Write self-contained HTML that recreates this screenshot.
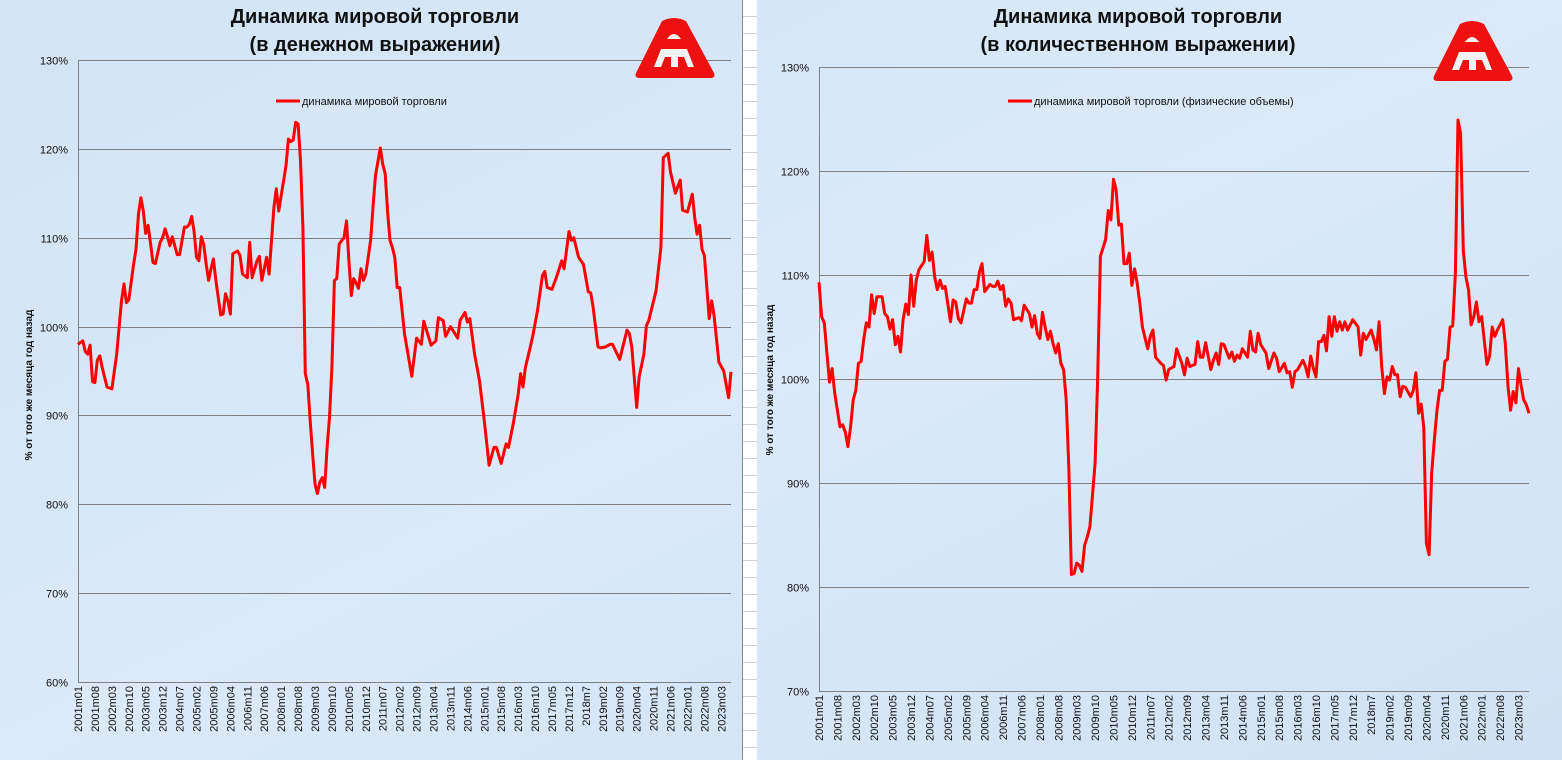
<!DOCTYPE html>
<html><head><meta charset="utf-8">
<style>
html,body{margin:0;padding:0;width:1562px;height:760px;overflow:hidden;background:#d8e7f7;}
svg{position:absolute;left:0;top:0;}
text{font-family:"Liberation Sans","DejaVu Sans",sans-serif;}
</style></head>
<body>
<svg id="chart" width="1562" height="760" viewBox="0 0 1562 760">
<defs>
<linearGradient id="bg" x1="0" y1="0" x2="1" y2="1">
<stop offset="0" stop-color="#d3e4f6"/><stop offset="0.5" stop-color="#dbe9f8"/><stop offset="1" stop-color="#d0e2f5"/>
</linearGradient>
</defs>
<rect x="0" y="0" width="1562" height="760" fill="url(#bg)"/>
<g id="strip"></g>
<g id="left"></g>
<g id="right"></g>
</svg>
<script>
// ---- shared category labels ----
const tickLabels = ["2001m01","2001m08","2002m03","2002m10","2003m05","2003m12","2004m07","2005m02","2005m09","2006m04","2006m11","2007m06","2008m01","2008m08","2009m03","2009m10","2010m05","2010m12","2011m07","2012m02","2012m09","2013m04","2013m11","2014m06","2015m01","2015m08","2016m03","2016m10","2017m05","2017m12","2018m7","2019m02","2019m09","2020m04","2020m11","2021m06","2022m01","2022m08","2023m03"];
const tickMonths = [0,7,14,21,28,35,42,49,56,63,70,77,84,91,98,105,112,119,126,133,140,147,154,161,168,175,182,189,196,203,210,217,224,231,238,245,252,259,266];
const totalMonths = 270;

// ---- left chart (value) ----
const valueMonths = [0,2,3,4,5,6,7,8,9,10,12,14,16,18,19,20,21,23,24,25,26,27,28,29,30,31,32,34,35,36,37,38,39,41,42,44,45,46,47,48,49,50,51,52,53,54,55,56,57,59,60,61,62,63,64,66,67,68,70,71,72,74,75,76,78,79,81,82,83,85,86,87,88,89,90,91,92,93,94,95,96,97,98,99,100,101,102,103,104,105,106,107,108,110,111,112,113,114,115,116,117,118,119,121,122,123,125,126,127,128,129,130,131,132,133,135,138,140,142,143,146,148,149,151,152,154,157,158,160,161,162,164,166,168,170,172,173,175,177,178,180,182,183,184,185,187,188,190,192,193,194,196,198,200,201,203,204,205,207,209,211,212,213,215,216,218,220,221,224,227,228,229,231,232,234,235,236,239,241,242,244,245,247,249,250,252,254,255,256,257,258,259,261,262,263,265,267,269,270];
const valueSeries = [98.0,98.4,97.2,96.9,97.9,93.8,93.7,96.2,96.7,95.4,93.2,93.0,96.9,102.9,104.8,102.7,103.0,107.0,108.7,112.7,114.5,113.0,110.5,111.4,109.3,107.2,107.1,109.5,110.0,111.0,110.1,109.1,110.1,108.1,108.1,111.2,111.2,111.5,112.4,110.7,107.8,107.4,110.1,109.2,107.0,105.2,106.5,107.6,105.2,101.3,101.4,103.7,102.9,101.4,108.2,108.5,108.0,105.9,105.5,109.5,105.5,107.4,107.9,105.2,107.8,105.9,113.4,115.5,113.0,116.4,118.1,121.1,120.8,121.0,123.0,122.8,118.7,111.2,94.7,93.5,89.4,85.7,82.3,81.2,82.5,83.0,81.9,86.4,89.8,95.4,105.2,105.4,109.3,110.0,111.9,107.4,103.5,105.4,104.9,104.3,106.5,105.2,105.9,109.7,113.6,117.0,120.1,118.3,117.2,112.9,109.7,108.9,107.8,104.4,104.4,99.2,94.4,98.7,98.0,100.6,97.9,98.4,101.0,100.7,98.9,100.0,98.7,100.7,101.6,100.5,100.9,96.9,93.9,89.4,84.4,86.4,86.4,84.6,86.8,86.4,89.1,92.4,94.7,93.2,95.4,97.7,98.9,101.8,105.7,106.2,104.4,104.2,105.7,107.4,106.5,110.7,109.7,110.0,107.8,107.0,103.9,103.8,102.2,97.7,97.6,97.7,98.0,98.0,96.3,99.6,99.2,97.7,90.9,94.3,96.9,100.1,100.7,104.0,108.9,119.0,119.5,117.4,115.0,116.5,113.1,112.9,114.9,112.3,110.4,111.4,108.7,108.0,100.9,102.9,101.2,96.0,95.0,92.0,94.9];
const valueTicks = [60,70,80,90,100,110,120,130];

// ---- right chart (volume) ----
const volumeMonths = [0,1,2,3,4,5,6,7,8,9,10,11,12,13,14,15,16,17,18,19,20,21,22,24,25,26,27,28,29,30,31,32,33,34,35,36,37,38,40,41,42,43,44,45,46,47,48,50,51,52,53,54,56,57,58,59,60,61,62,63,65,66,67,68,69,70,71,72,73,74,75,76,77,78,80,81,82,83,84,85,86,87,88,89,90,91,92,93,94,95,96,97,98,99,100,101,102,103,105,106,107,109,110,111,112,113,114,115,116,117,118,119,120,121,122,123,125,126,127,128,130,131,132,133,135,136,138,139,140,141,143,144,145,146,147,149,150,151,152,153,154,156,157,158,159,160,161,163,164,165,166,167,168,170,171,173,174,175,177,178,179,180,181,182,184,185,186,187,188,189,190,191,192,193,194,195,196,197,198,199,200,201,203,205,206,207,208,210,211,212,213,214,215,216,217,218,219,220,221,222,223,225,226,227,228,229,230,231,232,233,234,235,236,237,238,239,240,241,242,243,244,245,246,247,248,249,250,251,252,254,255,256,257,258,260,261,262,263,264,265,266,267,268,269,270];
const volumeSeries = [109.3,106.0,105.4,102.5,99.7,101.0,98.6,97.0,95.4,95.6,94.9,93.5,95.4,98.0,98.9,101.5,101.7,103.8,105.4,105.0,108.1,106.3,107.9,107.9,106.3,106.0,104.8,105.7,103.3,104.1,102.6,105.7,107.2,106.2,110.0,107.0,109.5,110.5,111.3,113.8,111.4,112.2,109.8,108.6,109.5,108.7,108.9,105.5,107.6,107.4,105.8,105.4,107.7,107.3,107.3,108.6,108.6,110.3,111.1,108.4,109.1,108.9,108.9,109.4,108.6,109.0,107.0,107.7,107.3,105.7,105.8,105.9,105.6,107.1,106.3,105.0,106.1,104.4,103.9,106.4,105.0,103.8,104.6,103.4,102.5,103.4,101.5,100.9,98.0,91.6,81.2,81.3,82.3,82.1,81.5,84.0,84.8,85.8,91.9,100.2,111.8,113.4,116.2,115.3,119.2,118.2,114.8,114.9,111.1,111.1,112.1,109.0,110.6,109.2,107.3,105.0,102.9,104.1,104.7,102.1,101.5,101.3,99.9,100.9,101.2,102.9,101.5,100.4,102.0,101.2,101.4,103.6,102.1,102.1,103.5,100.9,101.8,102.5,101.4,103.4,103.3,102.0,102.6,101.7,102.3,102.0,102.9,102.1,104.6,102.8,102.6,104.4,103.3,102.5,101.0,102.5,102.0,100.7,101.5,100.6,100.7,99.2,100.7,100.9,101.8,101.2,100.2,102.2,101.0,100.2,103.6,103.6,104.2,102.7,106.0,104.1,106.0,104.6,105.5,104.7,105.5,104.7,105.7,105.0,102.3,104.4,103.8,104.7,103.8,102.8,105.5,101.2,98.6,100.2,99.9,101.2,100.4,100.4,98.3,99.3,99.2,98.3,98.9,100.6,96.7,97.6,95.3,84.2,83.1,91.0,94.1,97.0,98.9,98.9,101.7,101.9,105.0,105.1,110.2,124.9,123.6,112.4,109.8,108.6,105.2,106.0,107.4,105.5,106.0,101.4,102.2,105.0,104.1,104.7,105.7,103.4,99.3,97.0,98.8,97.7,101.0,99.4,98.0,97.5,96.7];
const volumeTicks = [70,80,90,100,110,120,130];

const NS = "http://www.w3.org/2000/svg";
function mk(parent, tag, attrs, txt){
  const e = document.createElementNS(NS, tag);
  for (const k in attrs) e.setAttribute(k, attrs[k]);
  if (txt !== undefined) e.textContent = txt;
  parent.appendChild(e);
  return e;
}

// spreadsheet strip between charts
(function(){
  const g = document.getElementById('strip');
  const r = mk(g,'rect',{x:742,y:0,width:15,height:760,fill:'#ffffff'});
  
  
  mk(g,'line',{x1:742.5,y1:0,x2:742.5,y2:760,stroke:'#8a8a8a','stroke-width':1});
  for (let y=16; y<760; y+=17) mk(g,'line',{x1:743,y1:y+0.5,x2:757,y2:y+0.5,stroke:'#d0d0d0','stroke-width':1});
})();

function drawChart(g, cfg){
  const x = m => cfg.x0 + (cfg.x1 - cfg.x0) * m / totalMonths;
  const y = v => cfg.yTop + (cfg.maxV - v) * (cfg.yBot - cfg.yTop) / (cfg.maxV - cfg.minV);

  // title
  const t1 = mk(g,'text',{x:cfg.titleX,y:23,'text-anchor':'middle','font-size':20,'font-weight':'bold',fill:'#111'},cfg.title1);
  
  
  const t2 = mk(g,'text',{x:cfg.titleX,y:51,'text-anchor':'middle','font-size':20,'font-weight':'bold',fill:'#111'},cfg.title2);
  
  

  // gridlines and y ticks
  cfg.ticks.forEach(v=>{
    const yy = Math.round(y(v))+0.5;
    const gl = mk(g,'line',{x1:cfg.x0,y1:yy,x2:cfg.x1,y2:yy,stroke:'#808080','stroke-width':1});
    
    
    const tl = mk(g,'text',{x:cfg.x0-10,y:yy+4,'text-anchor':'end','font-size':11,fill:'#111'},v+'%');
    
    
  });
  const ax = mk(g,'line',{x1:cfg.x0+0.5,y1:y(cfg.maxV),x2:cfg.x0+0.5,y2:y(cfg.minV),stroke:'#808080','stroke-width':1});
  
  

  // y axis title
  const yt = mk(g,'text',{x:0,y:0,'text-anchor':'middle','font-size':10,'font-weight':'bold',fill:'#111',transform:`translate(${cfg.yTitleX},${cfg.yTitleY}) rotate(-90)`},'% от того же месяца год назад');
  
  

  // x tick labels
  tickLabels.forEach((lab,i)=>{
    const xx = x(tickMonths[i]);
    const yy = y(cfg.minV)+4;
    const tx = mk(g,'text',{x:0,y:0,'text-anchor':'end','font-size':11,fill:'#111','font-family':'"DejaVu Sans",sans-serif',transform:`translate(${xx+4},${yy}) rotate(-90)`},lab);
    
    
  });

  // series
  let d = '';
  cfg.months.forEach((m,i)=>{ d += (i?'L':'M') + x(m).toFixed(1) + ',' + y(cfg.values[i]).toFixed(1); });
  const p = mk(g,'path',{d:d,fill:'none',stroke:'#ff0000','stroke-width':3,'stroke-linejoin':'round'});
  
  

  // legend
  const lg = mk(g,'g',{});
  
  
  mk(lg,'line',{x1:cfg.legX,y1:cfg.legY,x2:cfg.legX+24,y2:cfg.legY,stroke:'#ff0000','stroke-width':3});
  mk(lg,'text',{x:cfg.legX+26,y:cfg.legY+4,'font-size':11,fill:'#111'},cfg.legend);

  // logo
  const lo = mk(g,'g',{transform:`translate(${cfg.logoX},${cfg.logoY})`});
  
  
  mk(lo,'path',{d:'M28,4 Q40,-2 52,4 L80,56 Q82,61 76,61 L6,61 Q0,61 2,56 Z',fill:'#ee1111'});
  mk(lo,'path',{d:'M33,22 Q40,12 47,22 Z',fill:'#f2f2f2'});
  mk(lo,'path',{d:'M27,32 L53,32 L60,50 L54,50 L50,40 L44,40 L44,50 L37,50 L37,40 L31,40 L27,50 L20,50 Z',fill:'#f2f2f2'});
}

drawChart(document.getElementById('left'),{
  x0:78,x1:731,yTop:60,yBot:682,minV:60,maxV:130,ticks:valueTicks,
  months:valueMonths,values:valueSeries,
  title1:'Динамика мировой торговли',title2:'(в денежном выражении)',titleX:375,
  yTitleX:32,yTitleY:385,legX:276,legY:101,legend:'динамика мировой торговли',
  logoX:634,logoY:17
});
drawChart(document.getElementById('right'),{
  x0:819,x1:1529,yTop:67,yBot:691,minV:70,maxV:130,ticks:volumeTicks,
  months:volumeMonths,values:volumeSeries,
  title1:'Динамика мировой торговли',title2:'(в количественном выражении)',titleX:1138,
  yTitleX:773,yTitleY:380,legX:1008,legY:101,legend:'динамика мировой торговли (физические объемы)',
  logoX:1432,logoY:20
});
</script>
</body></html>
